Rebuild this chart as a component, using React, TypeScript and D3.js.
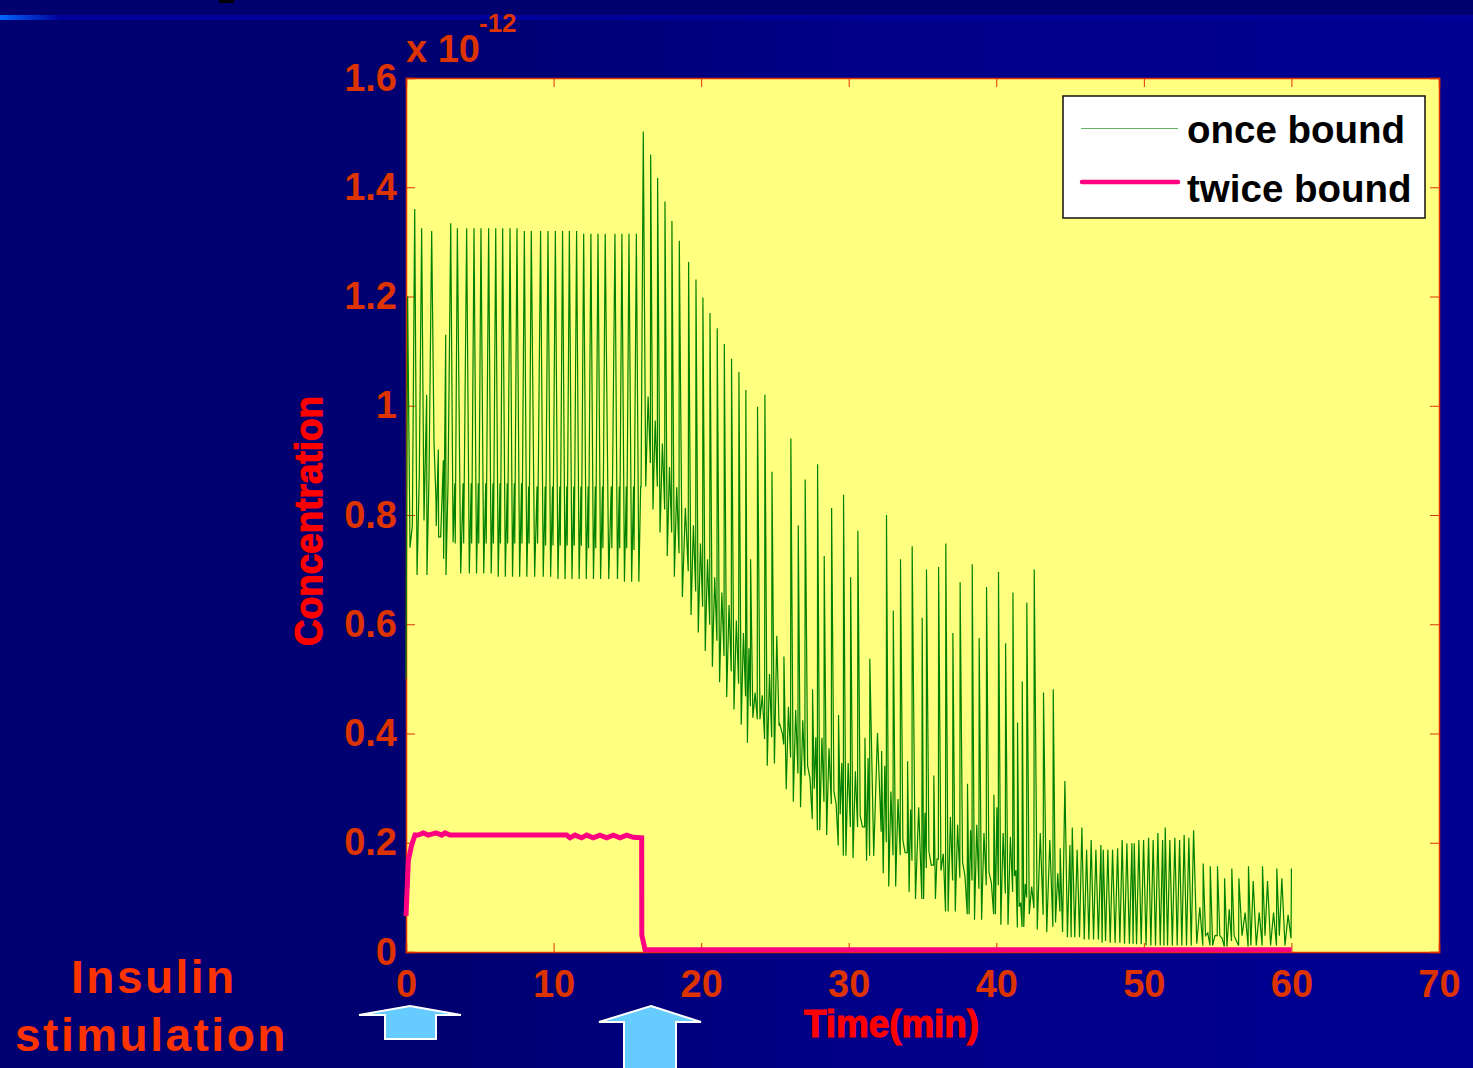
import { useEffect, useRef } from 'react';
import { select, scaleLinear, axisBottom, axisLeft, axisTop, axisRight, line } from 'd3';

const xTicks = [0, 10, 20, 30, 40, 50, 60, 70];
const yTicks = [0, 0.2, 0.4, 0.6, 0.8, 1, 1.2, 1.4, 1.6];

// once bound: first few samples before the spiking settles
const startTime = [0, 0.11, 0.27, 0.43, 0.59, 0.75, 0.9, 1.06, 1.22, 1.4, 1.42, 1.56, 1.74, 1.9, 2.03, 2.05, 2.19, 2.21, 2.35, 2.53, 2.55, 2.69, 2.71, 2.85];
const startValue = [0.5, 1.2, 0.74, 0.78, 1.36, 0.69, 0.87, 1.325, 0.79, 1.02, 0.69, 0.87, 1.32, 0.93, 0.83, 0.78, 0.92, 0.76, 0.76, 0.9, 0.72, 1.13, 0.69, 0.86];

// once bound: one entry per spike (top, first dip, small bump, dip before next spike)
const cycleTime = [
  3.03, 3.48, 4.11, 4.61, 5.08, 5.6, 6.08, 6.55, 7.05, 7.52, 8.02, 8.49, 9.12, 9.62, 10.12, 10.61, 11.07, 11.56, 12.04, 12.53, 13.01, 13.5, 14.16, 14.63, 15.11, 15.61,
  16.08, 16.58, 17.05, 17.55, 18.02, 18.52, 19.15, 19.65, 20.12, 20.6, 21.09, 21.57, 22.06, 22.56, 23.03, 23.35, 23.82, 24.32, 24.8, 25.3, 25.61, 26.08, 26.58, 27.05, 27.55, 27.89, 28.34, 28.84, 29.31, 29.65, 30.13, 30.62, 31.1, 31.43, 32.23, 32.56, 33.02, 33.51, 33.99, 34.3, 34.98, 35.27, 35.77, 36.09, 36.58, 37.06, 37.55, 38.05, 38.37, 38.84, 39.34, 39.84,
  40.15, 40.63, 41.13, 41.44, 41.76, 42.07, 42.57, 43.2, 43.86, 44.33, 44.65, 44.99, 45.15, 45.48, 45.8, 46.12, 46.43, 46.75, 47.09, 47.25, 47.56, 47.88, 48.22, 48.53, 48.85, 49.19, 49.35, 49.66, 49.98, 50.32, 50.63, 50.95, 51.27, 51.45, 51.76, 52.1, 52.42, 52.73, 53.05, 53.37, 54.02, 54.5, 54.99, 55.47, 55.96, 56.44, 57.09, 57.41, 58.04, 58.38, 59.01, 59.35,
];
const cyclePeak = [
  1.334, 1.325, 1.325, 1.325, 1.325, 1.325, 1.325, 1.325, 1.325, 1.325, 1.32, 1.32, 1.32, 1.32, 1.32, 1.32, 1.32, 1.32, 1.315, 1.315, 1.315, 1.315, 1.315, 1.315, 1.315, 1.315,
  1.502, 1.46, 1.417, 1.374, 1.338, 1.302, 1.263, 1.231, 1.198, 1.17, 1.142, 1.113, 1.086, 1.062, 1.029, 0.719, 0.998, 1.02, 0.879, 0.42, 0.541, 0.94, 0.781, 0.865, 0.481, 0.893, 0.725, 0.813, 0.434, 0.837, 0.686, 0.771, 0.392, 0.537, 0.368, 0.8, 0.625, 0.719, 0.349, 0.743, 0.612, 0.7, 0.323, 0.705, 0.748, 0.584, 0.677, 0.308, 0.71, 0.575, 0.668, 0.288,
  0.696, 0.565, 0.658, 0.42, 0.495, 0.64, 0.7, 0.475, 0.481, 0.19, 0.313, 0.196, 0.228, 0.187, 0.228, 0.187, 0.205, 0.187, 0.196, 0.187, 0.187, 0.187, 0.19, 0.205, 0.199, 0.199, 0.199, 0.205, 0.205, 0.209, 0.205, 0.218, 0.205, 0.228, 0.205, 0.209, 0.205, 0.214, 0.209, 0.223, 0.162, 0.157, 0.157, 0.135, 0.153, 0.135, 0.157, 0.13, 0.157, 0.13, 0.153, 0.135,
];
const cycleLow = [
  0.75, 0.693, 0.693, 0.693, 0.693, 0.693, 0.687, 0.687, 0.687, 0.687, 0.687, 0.687, 0.687, 0.687, 0.683, 0.683, 0.683, 0.683, 0.683, 0.683, 0.683, 0.683, 0.683, 0.678, 0.678, 0.678,
  0.852, 0.81, 0.768, 0.725, 0.687, 0.65, 0.617, 0.585, 0.551, 0.522, 0.494, 0.467, 0.444, 0.416, 0.383, 0.429, 0.426, 0.341, 0.345, 0.41, 0.298, 0.275, 0.265, 0.341, 0.299, 0.223, 0.214, 0.295, 0.252, 0.176, 0.172, 0.249, 0.167, 0.176, 0.144, 0.12, 0.12, 0.205, 0.11, 0.097, 0.097, 0.184, 0.097, 0.149, 0.074, 0.074, 0.164, 0.069, 0.059, 0.059, 0.146, 0.069,
  0.05, 0.05, 0.139, 0.083, 0.046, 0.069, 0.041, 0.036, 0.054, 0.036, 0.027, 0.027, 0.027, 0.027, 0.023, 0.023, 0.023, 0.023, 0.017, 0.02, 0.017, 0.017, 0.017, 0.015, 0.015, 0.015, 0.014, 0.014, 0.012, 0.012, 0.012, 0.012, 0.012, 0.012, 0.012, 0.012, 0.012, 0.012, 0.012, 0.015, 0.03, 0.012, 0.03, 0.01, 0.03, 0.03, 0.012, 0.012, 0.03, 0.012, 0.03, 0.012,
];
const cycleMid = [
  0.858, 0.858, 0.858, 0.858, 0.858, 0.858, 0.858, 0.858, 0.858, 0.858, 0.852, 0.852, 0.852, 0.852, 0.852, 0.852, 0.852, 0.852, 0.852, 0.852, 0.852, 0.852, 0.852, 0.852, 0.852, 0.852,
  1.017, 0.973, 0.931, 0.888, 0.851, 0.813, 0.781, 0.748, 0.719, 0.686, 0.658, 0.635, 0.607, 0.584, 0.556, 0.475, 0.47, 0.509, 0.579, 0.4, 0.449, 0.443, 0.424, 0.318, 0.393, 0.392, 0.373, 0.271, 0.346, 0.346, 0.331, 0.229, 0.355, 0.401, 0.341, 0.294, 0.28, 0.182, 0.261, 0.265, 0.255, 0.159, 0.17, 0.18, 0.247, 0.233, 0.14, 0.223, 0.233, 0.218, 0.127, 0.265,
  0.218, 0.211, 0.15, 0.09, 0.125, 0.12, 0.218, 0.205, 0.144, 0.08, 0.07, 0.06, 0.06, 0.065, 0.07, 0.06, 0.065, 0.06, 0.055, 0.05, 0.055, 0.055, 0.06, 0.05, 0.055, 0.05, 0.05, 0.055, 0.05, 0.055, 0.05, 0.05, 0.05, 0.05, 0.055, 0.05, 0.055, 0.05, 0.055, 0.082, 0.035, 0.03, 0.025, 0.078, 0.02, 0.072, 0.03, 0.072, 0.02, 0.072, 0.02, 0.068,
];
const cycleRise = [
  0.748, 0.748, 0.748, 0.748, 0.748, 0.748, 0.748, 0.748, 0.748, 0.748, 0.748, 0.748, 0.744, 0.744, 0.744, 0.744, 0.744, 0.744, 0.739, 0.739, 0.739, 0.739, 0.739, 0.739, 0.736, 0.852,
  0.895, 0.852, 0.81, 0.768, 0.73, 0.697, 0.66, 0.632, 0.599, 0.57, 0.542, 0.514, 0.491, 0.468, 0.45, 0.426, 0.39, 0.393, 0.414, 0.38, 0.356, 0.327, 0.323, 0.243, 0.223, 0.275, 0.271, 0.195, 0.176, 0.229, 0.229, 0.229, 0.176, 0.22, 0.201, 0.177, 0.177, 0.182, 0.167, 0.097, 0.154, 0.159, 0.17, 0.074, 0.131, 0.136, 0.069, 0.131, 0.116, 0.122, 0.069, 0.122,
  0.107, 0.11, 0.045, 0.046, 0.1, 0.08, 0.068, 0.046, 0.074, 0.03, 0.027, 0.027, 0.027, 0.027, 0.023, 0.023, 0.023, 0.023, 0.023, 0.02, 0.017, 0.017, 0.017, 0.015, 0.015, 0.015, 0.014, 0.014, 0.012, 0.012, 0.012, 0.012, 0.012, 0.012, 0.012, 0.012, 0.012, 0.012, 0.012, 0.012, 0.012, 0.03, 0.01, 0.02, 0.012, 0.01, 0.02, 0.012, 0.012, 0.012, 0.012, 0.025,
];
const endTime = 60;
const endValue = 0.153;

const twiceTime = [0, 0.16, 0.38, 0.61, 0.83, 1.17, 1.51, 2.03, 2.42, 2.64, 2.98, 10.89, 11.11, 11.45, 11.9, 12.24, 12.69, 13.14, 13.6, 14.05, 14.5, 14.95, 15.4, 15.97, 15.98, 16.2, 60];
const twiceValue = [0.066, 0.168, 0.196, 0.214, 0.214, 0.218, 0.214, 0.218, 0.214, 0.218, 0.214, 0.214, 0.209, 0.214, 0.209, 0.214, 0.209, 0.214, 0.209, 0.214, 0.209, 0.214, 0.21, 0.209, 0.031, 0.004, 0.004];

const legendLabels = ['once bound', 'twice bound'];

const WIDTH = 1473;
const HEIGHT = 1068;
const ORANGE = '#dc3300';
const FONT = '"Liberation Sans", Arial, sans-serif';

const App = () => {
  const ref = useRef<SVGSVGElement>(null);

  useEffect(() => {
    const svg = select(ref.current);
    svg.selectAll('*').remove();

    const defs = svg.append('defs');
    const bg = defs.append('linearGradient').attr('id', 'bg');
    bg.append('stop').attr('offset', '0.3').attr('stop-color', '#000070');
    bg.append('stop').attr('offset', '0.6').attr('stop-color', '#00008a');
    bg.append('stop').attr('offset', '1').attr('stop-color', '#000090');
    const band = defs
      .append('linearGradient')
      .attr('id', 'band')
      .attr('gradientUnits', 'userSpaceOnUse')
      .attr('x1', 0)
      .attr('x2', 60);
    band.append('stop').attr('offset', '0').attr('stop-color', '#0066ff');
    band.append('stop').attr('offset', '1').attr('stop-color', '#00009a');

    svg.append('rect').attr('width', WIDTH).attr('height', HEIGHT).attr('fill', 'url(#bg)');
    svg.append('rect').attr('width', WIDTH).attr('height', 15).attr('fill', '#00006e');
    svg.append('rect').attr('y', 15).attr('width', WIDTH).attr('height', 5).attr('fill', 'url(#band)');
    svg.append('rect').attr('x', 219).attr('width', 15).attr('height', 3).attr('fill', '#000');

    const x = scaleLinear().domain([0, 70]).range([406, 1439]);
    const y = scaleLinear().domain([0, 1.6]).range([952, 78]);

    svg
      .append('rect')
      .attr('x', 406)
      .attr('y', 78)
      .attr('width', 1033)
      .attr('height', 874)
      .attr('fill', '#ffff80');

    // ticks on all four sides, labels only bottom and left
    const styleAxis = (g: any) => {
      g.select('.domain').attr('stroke', ORANGE).attr('stroke-width', 1.5);
      g.selectAll('.tick line').attr('stroke', ORANGE);
      g.selectAll('text')
        .attr('fill', ORANGE)
        .attr('font-family', FONT)
        .attr('font-weight', 'bold')
        .attr('font-size', 38);
    };
    svg
      .append('g')
      .attr('transform', 'translate(0,78)')
      .call(axisTop(x).tickValues(xTicks).tickSize(-9).tickFormat(() => ''))
      .call(styleAxis);
    svg
      .append('g')
      .attr('transform', 'translate(1439,0)')
      .call(axisRight(y).tickValues(yTicks).tickSize(-9).tickFormat(() => ''))
      .call(styleAxis);
    svg
      .append('g')
      .attr('transform', 'translate(0,952)')
      .call(axisBottom(x).tickValues(xTicks).tickSize(-9).tickPadding(18).tickFormat((d) => String(d)))
      .call(styleAxis);
    svg
      .append('g')
      .attr('transform', 'translate(406,0)')
      .call(axisLeft(y).tickValues(yTicks).tickSize(-9).tickPadding(9).tickFormat((d) => String(d)))
      .call(styleAxis);

    // once bound series, built from the spike tables
    const once: [number, number][] = startTime.map((t, i) => [t, startValue[i]]);
    cycleTime.forEach((t, i) => {
      const next = i < cycleTime.length - 1 ? cycleTime[i + 1] : endTime;
      const gap = next - t;
      const steady = t < 16;
      once.push([t, cyclePeak[i]]);
      // the fast spikes after 44 min are plain V shapes
      if (t > 44 && gap < 0.4) {
        once.push([t + gap * 0.5, cycleLow[i]]);
        return;
      }
      once.push([t + gap * (steady ? 0.36 : 0.33), cycleLow[i]]);
      once.push([t + gap * (steady ? 0.62 : 0.65), cycleMid[i]]);
      once.push([t + gap * (steady ? 0.68 : 0.96), cycleRise[i]]);
    });
    once.push([endTime, endValue]);

    const lineGen = line<[number, number]>()
      .x((d) => x(d[0]))
      .y((d) => y(d[1]));

    svg
      .append('path')
      .attr('d', lineGen(once))
      .attr('fill', 'none')
      .attr('stroke', '#008000')
      .attr('stroke-width', 1.2);

    svg
      .append('path')
      .attr('d', lineGen(twiceTime.map((t, i) => [t, twiceValue[i]])))
      .attr('fill', 'none')
      .attr('stroke', '#ff0080')
      .attr('stroke-width', 5);

    // legend
    svg
      .append('rect')
      .attr('x', 1063)
      .attr('y', 96)
      .attr('width', 362)
      .attr('height', 122)
      .attr('fill', '#fff')
      .attr('stroke', '#111')
      .attr('stroke-width', 1.5);
    svg.append('line').attr('x1', 1081).attr('x2', 1178).attr('y1', 128.5).attr('y2', 128.5).attr('stroke', '#008000').attr('stroke-width', 1.2).attr('opacity', 0.6);
    svg.append('line').attr('x1', 1082).attr('x2', 1178).attr('y1', 182).attr('y2', 182).attr('stroke', '#ff0080').attr('stroke-width', 4.5).attr('stroke-linecap', 'round');
    legendLabels.forEach((label, i) => {
      svg
        .append('text')
        .attr('x', 1187)
        .attr('y', i === 0 ? 143 : 202)
        .attr('font-family', FONT)
        .attr('font-weight', 'bold')
        .attr('font-size', 38.5)
        .attr('fill', '#000')
        .text(label);
    });

    // scale factor above the y axis
    svg.append('text').attr('x', 406).attr('y', 62).attr('font-family', FONT).attr('font-weight', 'bold').attr('font-size', 38).attr('fill', ORANGE).text('x 10');
    svg.append('text').attr('x', 479).attr('y', 32).attr('font-family', FONT).attr('font-weight', 'bold').attr('font-size', 26).attr('fill', ORANGE).text('-12');

    // axis titles
    svg
      .append('text')
      .attr('transform', 'translate(322,521) rotate(-90)')
      .attr('text-anchor', 'middle')
      .attr('font-family', FONT)
      .attr('font-weight', 'bold')
      .attr('font-size', 38)
      .attr('textLength', 250)
      .attr('lengthAdjust', 'spacingAndGlyphs')
      .attr('fill', '#ff0000')
      .attr('stroke', '#ff0000')
      .attr('stroke-width', 1.2)
      .text('Concentration');
    svg
      .append('text')
      .attr('x', 804)
      .attr('y', 1037)
      .attr('font-family', FONT)
      .attr('font-weight', 'bold')
      .attr('font-size', 38)
      .attr('textLength', 175)
      .attr('lengthAdjust', 'spacingAndGlyphs')
      .attr('fill', '#ff0000')
      .attr('stroke', '#ff0000')
      .attr('stroke-width', 1.2)
      .text('Time(min)');

    // stimulation note and arrows
    [
      { t: 'Insulin', x: 71, y: 993 },
      { t: 'stimulation', x: 15, y: 1051 },
    ].forEach((d) => {
      svg
        .append('text')
        .attr('x', d.x)
        .attr('y', d.y)
        .attr('font-family', FONT)
        .attr('font-weight', 'bold')
        .attr('font-size', 46)
        .attr('letter-spacing', 2.5)
        .attr('fill', '#ff3300')
        .text(d.t);
    });
    [
      'M410,1006 L461,1015 L436,1015 L436,1039 L385,1039 L385,1015 L359,1015 Z',
      'M651,1006 L701,1022 L676,1022 L676,1075 L624,1075 L624,1022 L599,1022 Z',
    ].forEach((d) => {
      svg.append('path').attr('d', d).attr('fill', '#66ccff').attr('stroke', '#fff').attr('stroke-width', 2);
    });
  }, []);

  return <svg ref={ref} width={WIDTH} height={HEIGHT} style={{ position: 'absolute', left: 0, top: 0 }} />;
};

export default App;
